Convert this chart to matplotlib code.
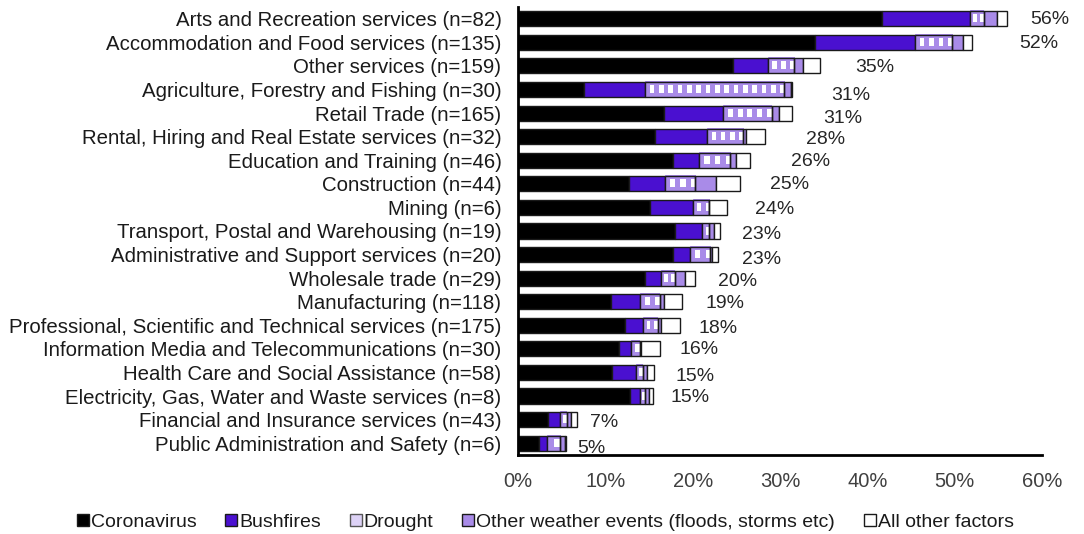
import matplotlib
matplotlib.use("Agg")
import matplotlib.pyplot as plt
import numpy as np
from matplotlib.patches import Patch, Rectangle

plt.rcParams['font.family'] = ['Liberation Sans', 'DejaVu Sans']

# industries, top to bottom
categories = [
    "Arts and Recreation services (n=82)",
    "Accommodation and Food services (n=135)",
    "Other services (n=159)",
    "Agriculture, Forestry and Fishing (n=30)",
    "Retail Trade (n=165)",
    "Rental, Hiring and Real Estate services (n=32)",
    "Education and Training (n=46)",
    "Construction (n=44)",
    "Mining (n=6)",
    "Transport, Postal and Warehousing (n=19)",
    "Administrative and Support services (n=20)",
    "Wholesale trade (n=29)",
    "Manufacturing (n=118)",
    "Professional, Scientific and Technical services (n=175)",
    "Information Media and Telecommunications (n=30)",
    "Health Care and Social Assistance (n=58)",
    "Electricity, Gas, Water and Waste services (n=8)",
    "Financial and Insurance services (n=43)",
    "Public Administration and Safety (n=6)",
]

# share of businesses (%) by main cause
coronavirus = [41.7, 34.0, 24.6, 7.5, 16.7, 15.7, 17.7, 12.7, 15.1, 18.0,
               17.7, 14.5, 10.6, 12.2, 11.5, 10.7, 12.8, 3.4, 2.4]
bushfires = [10.0, 11.4, 4.0, 7.0, 6.8, 5.9, 3.0, 4.1, 4.9, 3.0,
             2.0, 1.9, 3.4, 2.1, 1.4, 2.8, 1.2, 1.4, 0.9]
drought = [1.6, 4.3, 3.0, 16.0, 5.6, 4.2, 3.6, 3.5, 1.9, 0.9,
           2.3, 1.6, 2.2, 1.7, 1.0, 0.8, 0.5, 0.8, 1.5]
other_weather = [1.5, 1.3, 1.0, 0.8, 0.8, 0.3, 0.6, 2.4, 0.0, 0.5,
                 0.2, 1.1, 0.5, 0.4, 0.2, 0.4, 0.5, 0.5, 0.6]
all_other = [1.2, 1.0, 2.0, 0.1, 1.5, 2.2, 1.6, 2.7, 2.0, 0.7,
             0.7, 1.1, 2.1, 2.1, 2.1, 0.9, 0.4, 0.6, 0.1]
total_labels = ["56%", "52%", "35%", "31%", "31%", "28%", "26%", "25%", "24%", "23%",
                "23%", "20%", "19%", "18%", "16%", "15%", "15%", "7%", "5%"]

x_ticks = [0, 10, 20, 30, 40, 50, 60]

# label placement tweaks (style only)
label_dx = [2.7, 5.4, 4.0, 4.5, 3.5, 4.7, 4.7, 3.4, 3.2, 2.5,
            2.7, 2.7, 2.6, 2.1, 2.3, 2.4, 2.0, 1.5, 1.25]
label_dy = [0.04, 0.04, 0.08, 0.25, 0.25, 0.13, 0.04, 0.04, 0.08, 0.17,
            0.21, 0.13, 0.08, 0.13, 0.04, 0.17, 0.08, 0.13, 0.21]

c_black = "#000000"
c_bush = "#4a10d0"
c_purple = "#a98be8"
edge = "#1a1a1a"
bar_h = 0.64

fig = plt.figure(figsize=(10.84, 5.34), dpi=100)
ax = fig.add_axes([0.478, 0.148, 0.4833, 0.839])

y = np.arange(len(categories))
left = np.zeros(len(categories))

# solid segments
ax.barh(y, coronavirus, left=left, height=bar_h, color=c_black, edgecolor=edge, linewidth=1, zorder=2)
left += np.array(coronavirus)
ax.barh(y, bushfires, left=left, height=bar_h, color=c_bush, edgecolor=edge, linewidth=1, zorder=2)
left += np.array(bushfires)

# drought: checkerboard pattern drawn as small image inside the bar
cell_w = 1.05
purple_rgb = np.array(matplotlib.colors.to_rgb(c_purple))
for yi, (x0, w) in enumerate(zip(left, drought)):
    if w <= 0:
        continue
    n = max(1, int(round(w / cell_w)))
    pat = np.ones((8, 2 * n, 3))
    pat[:, :] = purple_rgb
    for j in range(2 * n):
        if j % 2 == 1:
            pat[2:6, j] = [1, 1, 1]
    ax.imshow(pat, extent=(x0, x0 + w, yi + bar_h / 2, yi - bar_h / 2),
              aspect='auto', interpolation='nearest', zorder=2)
    ax.add_patch(Rectangle((x0, yi - bar_h / 2), w, bar_h, fill=False,
                           edgecolor=edge, linewidth=1, zorder=3))
left += np.array(drought)

ax.barh(y, other_weather, left=left, height=bar_h, color=c_purple, edgecolor=edge, linewidth=1, zorder=2)
left += np.array(other_weather)
ax.barh(y, all_other, left=left, height=bar_h, color="white", edgecolor=edge, linewidth=1, zorder=2)
left += np.array(all_other)

# total labels
for yi, (tot, lab) in enumerate(zip(left, total_labels)):
    ax.text(tot + label_dx[yi], yi + label_dy[yi], lab, va='center', ha='left',
            fontsize=14, color="#262626")

ax.set_xlim(0, 60)
ax.set_ylim(len(categories) - 0.5, -0.5)
ax.set_xticks(x_ticks)
ax.set_xticklabels([f"{t}%" for t in x_ticks], fontsize=14.5, color="#404040")
ax.set_yticks(y)
ax.set_yticklabels(categories, fontsize=14.7, color="#1a1a1a")
ax.tick_params(axis='x', length=0, pad=12)
ax.tick_params(axis='y', length=0, pad=12)

for s in ["top", "right"]:
    ax.spines[s].set_visible(False)
for s in ["left", "bottom"]:
    ax.spines[s].set_linewidth(2)
    ax.spines[s].set_color("black")

handles = [
    Patch(facecolor=c_black, edgecolor=edge, label="Coronavirus"),
    Patch(facecolor=c_bush, edgecolor=edge, label="Bushfires"),
    Patch(facecolor="#ddd2f6", edgecolor="#555555", label="Drought"),
    Patch(facecolor=c_purple, edgecolor=edge, label="Other weather events (floods, storms etc)"),
    Patch(facecolor="white", edgecolor=edge, label="All other factors"),
]
fig.legend(handles=handles, loc='lower center', bbox_to_anchor=(0.503, -0.027), ncol=5,
           frameon=False, fontsize=14, handlelength=0.6, handleheight=0.6,
           handletextpad=0.1, columnspacing=1.5, labelcolor="#1a1a1a")

fig.savefig("out.png", dpi=100)
